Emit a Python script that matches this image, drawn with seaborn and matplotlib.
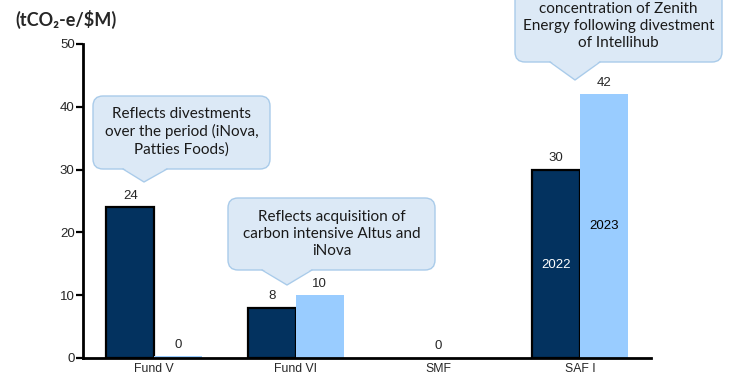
import matplotlib
matplotlib.use("Agg")
import matplotlib.pyplot as plt
import matplotlib.transforms as mtransforms
from matplotlib.patches import FancyBboxPatch, Polygon
import seaborn as sns
import pandas as pd

funds = ["Fund V", "Fund VI", "SMF", "SAF I"]
years = ["2022", "2023"]
values_2022 = [24, 8, 0, 30]
values_2023 = [0.3, 10, 0, 42]
labels_2022 = ["24", "8", "", "30"]
labels_2023 = ["0", "10", "", "42"]
group_labels = ["", "", "0", ""]
y_ticks = [0, 10, 20, 30, 40, 50]
unit_title = "(tCO\u2082-e/$M)"
callout_texts = [
    "Reflects divestments\nover the period (iNova,\nPatties Foods)",
    "Reflects acquisition of\ncarbon intensive Altus and\niNova",
    "concentration of Zenith\nEnergy following divestment\nof Intellihub",
]

sns.set_theme(style="white")
plt.rcParams["font.family"] = ["Liberation Sans", "DejaVu Sans"]

df = pd.DataFrame({
    "fund": funds * 2,
    "year": [years[0]] * 4 + [years[1]] * 4,
    "value": values_2022 + values_2023,
})

W, H = 731, 374
fig = plt.figure(figsize=(W / 100, H / 100), dpi=100)
ax = fig.add_axes([83 / W, 1 - 358 / H, (651 - 83) / W, (358 - 44) / H])

dark = "#03325f"
light = "#99ccff"
sns.barplot(data=df, x="fund", y="value", hue="year", order=funds,
            hue_order=years, palette=[dark, light], width=0.67,
            ax=ax, legend=False, saturation=1)

# edges: dark bars outlined in black, light bars no edge
for i, p in enumerate(ax.patches):
    if i < 4 and p.get_height() > 0:
        p.set_edgecolor("black")
        p.set_linewidth(1.6)
    else:
        p.set_edgecolor("none")
        p.set_linewidth(0)

ax.set_xlim(-0.5, 3.5)
ax.set_ylim(0, 50)
ax.set_yticks(y_ticks)
ax.set_xlabel("")
ax.set_ylabel("")
for s in ["top", "right"]:
    ax.spines[s].set_visible(False)
for s in ["left", "bottom"]:
    ax.spines[s].set_linewidth(2)
    ax.spines[s].set_color("black")
ax.tick_params(axis="y", which="major", left=True, length=5, width=1.6,
               labelsize=9.5, pad=1, color="black")
ax.tick_params(axis="x", bottom=False, labelsize=8.8, pad=-2.5)

# value labels
bars = ax.patches
for i in range(4):
    b1 = bars[i]
    b2 = bars[i + 4]
    if labels_2022[i]:
        ax.annotate(labels_2022[i], (b1.get_x() + b1.get_width() / 2, b1.get_height()),
                    xytext=(0, 4), textcoords="offset points", ha="center",
                    va="bottom", fontsize=9.5)
    if labels_2023[i]:
        ax.annotate(labels_2023[i], (b2.get_x() + b2.get_width() / 2, b2.get_height()),
                    xytext=(0, 4), textcoords="offset points", ha="center",
                    va="bottom", fontsize=9.5)
    if group_labels[i]:
        ax.annotate(group_labels[i], (i, 0), xytext=(0, 4),
                    textcoords="offset points", ha="center", va="bottom",
                    fontsize=9.5)

# in-bar year labels (SAF I)
bd, bl = bars[3], bars[7]
ax.text(bd.get_x() + bd.get_width() / 2, 14.8, years[0], color="white",
        ha="center", va="center", fontsize=9.5)
ax.text(bl.get_x() + bl.get_width() / 2, 21, years[1], color="black",
        ha="center", va="center", fontsize=9.5)

# title
fig.text(15 / W, 1 - 19 / H, unit_title, fontsize=13, fontweight="bold",
         ha="left", va="center", family=["Lato", "DejaVu Sans"])

# callouts in pixel coords (y from top)
pix = mtransforms.Affine2D().scale(1 / W, -1 / H).translate(0, 1) + fig.transFigure
fill = "#dce9f6"
edge = "#a9cbea"

def callout(x0, y0, x1, y1, tipx, tipy, bx0, bx1, text, ty, spacing=1.25):
    box = FancyBboxPatch((x0, y0), x1 - x0, y1 - y0,
                         boxstyle="round,pad=0,rounding_size=10",
                         transform=pix, facecolor=fill, edgecolor=edge,
                         linewidth=1.0, zorder=5)
    fig.add_artist(box)
    tri = Polygon([(bx0, y1 - 1), (tipx, tipy), (bx1, y1 - 1)],
                  closed=True, transform=pix, facecolor=fill,
                  edgecolor="none", zorder=6)
    fig.add_artist(tri)
    fig.add_artist(plt.Line2D([bx0, tipx, bx1], [y1, tipy, y1], transform=pix,
                              color=edge, linewidth=1.0, zorder=7))
    fig.text(((x0 + x1) / 2) / W, 1 - ty / H, text, ha="center", va="center",
             fontsize=11, linespacing=spacing, color="#1a1a1a", zorder=8,
             family=["Lato", "DejaVu Sans"])

callout(93, 96, 270, 169, 144, 182, 123, 167, callout_texts[0], 132)
callout(228, 198, 435, 270, 287, 285, 262, 312, callout_texts[1], 234)
callout(515, -40, 722, 62, 575, 80, 550, 600, callout_texts[2], 26)

fig.savefig("out.png", dpi=100)
